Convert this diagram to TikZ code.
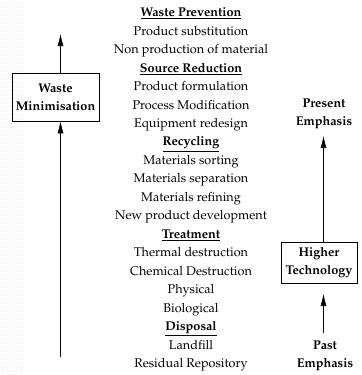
\documentclass[tikz,border=0pt]{standalone}
\usepackage[T1]{fontenc}
\usepackage{mathpazo}
\usetikzlibrary{arrows.meta}

\tikzset{
  ligne/.style={inner sep=0pt, font=\fontsize{9.5}{13.8}\selectfont},
  boite/.style={draw, thin, align=center, inner sep=0pt, font=\fontsize{9.5}{13.5}\selectfont\bfseries},
  emphase/.style={align=center, inner sep=0pt, font=\fontsize{9.5}{13.5}\selectfont\bfseries},
  fleche/.style={thin, -{Latex[length=9pt,width=4.5pt]}}
}
\newcommand{\Titre}[1]{\underline{\textbf{#1}}}

\begin{document}
\begin{tikzpicture}[x=0.75pt,y=-0.75pt]
\useasboundingbox (0,0) rectangle (361,375);

%motif du fond (bord gauche)
\foreach \y in {0,4,...,376}{
  \draw[gray!10, line width=0.4pt] (0,\y) -- ++(3,-2) -- ++(3,2) -- ++(3,-2) -- ++(3,2) -- ++(3,-2) -- ++(3,2) -- ++(3,-2) -- ++(3,2);}

%colonne des textes
    %abscisse de la colonne
    \def \ColX {191}
    %ordonnée de la premiere ligne
    \def \PremY {13}
    %pas entre deux lignes
    \def \Pas {18.47}
\foreach \texte [count=\i] in {
    {\Titre{Waste Prevention}}, Product substitution, Non production of material,
    {\Titre{Source Reduction}}, Product formulation, Process Modification, Equipment redesign,
    {\Titre{Recycling}}, Materials sorting, Materials separation, Materials refining, New product development,
    {\Titre{Treatment}}, Thermal destruction, Chemical Destruction, Physical, Biological,
    {\Titre{Disposal}}, Landfill, Residual Repository}
  {\node[ligne] (l\i) at (\ColX,{\PremY+(\i-1)*\Pas}) {\strut\texte};}

%fleche de gauche
\node[boite, minimum width=65.25pt, minimum height=36pt] (wm) at (55.5,97) {Waste\\Minimisation};
\coordinate (hautG) at (60.5,34);
\coordinate (basG) at (60.5,357);
\draw[fleche] (hautG |- wm.north) -- (hautG);
\draw[fleche] (basG) -- (basG |- wm.south);

%fleche de droite
\node[emphase] (pe) at (324,114) {Present\\Emphasis};
\node[boite, minimum width=57pt, minimum height=30.75pt] (ht) at (319,262.5) {Higher\\Technology};
\node[emphase] (pa) at (325,356) {Past\\Emphasis};
\coordinate (hautD) at (323.5,136);
\coordinate (milD) at (323.5,294);
\coordinate (basD) at (323.5,333);
\draw[fleche] (hautD |- ht.north) -- (hautD);
\draw[fleche] (basD) -- (milD); %ne touche pas la boite

\end{tikzpicture}
\end{document}
